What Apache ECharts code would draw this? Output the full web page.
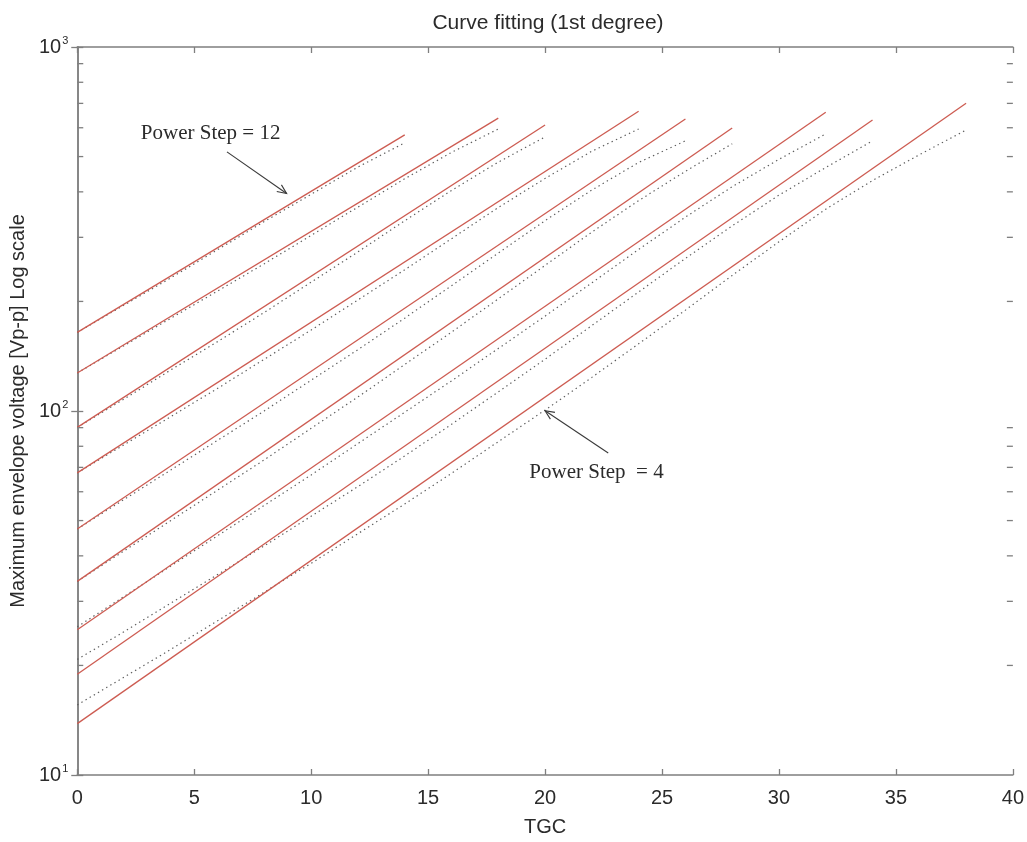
<!DOCTYPE html>
<html>
<head>
<meta charset="utf-8">
<title>Curve fitting (1st degree)</title>
<script src="https://cdn.jsdelivr.net/npm/echarts@6/dist/echarts.min.js"></script>
<style>
  html, body { margin: 0; padding: 0; background: #ffffff; }
  #chart { width: 1027px; height: 842px; }
</style>
</head>
<body>
<div id="chart"></div>
<script>
// TGC settings at which the envelope voltage was measured
const tgc = [0, 2, 4, 6, 8, 10, 12, 14, 16, 18, 20, 22, 24, 26, 28, 30, 32, 34, 36, 38];

// Power steps, top curve first
const powerSteps = [12, 11, 10, 9, 8, 7, 6, 5, 4];

// Last TGC value of each power step
const tgcEnd = [14, 18, 20, 24, 26, 28, 32, 34, 38];

// First-degree fit (straight line on the log scale): value at TGC 0 and at the last TGC
const fitStart = [164.4, 127.2, 90.16, 67.61, 47.39, 34.03, 25.06, 18.92, 13.84];
const fitEnd = [573.4, 637.8, 610.5, 666.3, 633.9, 599.1, 662.2, 630.0, 700.3];

// Measured maximum envelope voltage [Vp-p], one array per power step
const measured12 = [164.4, 195.4, 232.1, 277.4, 331.6, 393.9, 468.0, 545.5];
const measured11 = [127.2, 151.2, 179.8, 213.6, 253.9, 303.8, 363.3, 434.6, 513.4, 595.3];
const measured10 = [90.16, 107.8, 129.7, 155.1, 186.6, 225.9, 273.6, 333.2, 403.6, 482.6, 566.2];
const measured9 = [67.61, 80.80, 96.54, 115.4, 138.8, 166.9, 201.9, 244.3, 297.4, 362.2, 435.5, 517.2, 595.4];
const measured8 = [47.39, 57.14, 68.88, 83.05, 100.1, 121.5, 147.4, 179.9, 221.0, 271.5, 333.4, 404.5, 481.7, 552.3];
const measured7 = [34.03, 41.26, 50.01, 60.60, 73.47, 89.63, 109.3, 134.2, 164.7, 203.3, 251.2, 310.1, 378.4, 455.6, 542.1];
const measured6 = [25.53, 30.94, 37.50, 45.44, 55.06, 66.73, 81.38, 99.22, 121.0, 148.5, 182.2, 225.0, 277.8, 340.9, 413.2, 491.4, 577.0];
const measured5 = [20.78, 24.75, 29.67, 35.55, 42.62, 51.40, 62.00, 75.26, 91.90, 112.9, 138.8, 171.7, 212.3, 262.6, 322.7, 391.7, 466.7, 552.3];
const measured4 = [15.58, 18.57, 22.13, 26.54, 31.81, 38.15, 46.03, 55.54, 67.42, 82.36, 100.6, 123.7, 153.0, 189.3, 235.8, 291.6, 358.4, 429.8, 505.8, 591.6];

const measured = [measured12, measured11, measured10, measured9, measured8, measured7, measured6, measured5, measured4];

// Minor log ticks drawn on the left and right frame edges
const yMinorTicks = [20, 30, 40, 50, 60, 70, 80, 90, 200, 300, 400, 500, 600, 700, 800, 900];

// Annotations: text anchor and arrow (tail, head) in data coordinates
const notes = [
  { text: 'Power Step = 12', at: [5.7, 577], from: [6.4, 515], to: [8.95, 396] },
  { text: 'Power Step  = 4', at: [22.2, 67.6], from: [22.7, 76.7], to: [20.0, 100.2] }
];

const SANS = '"Liberation Sans", Arial, sans-serif';
const SERIF = '"Liberation Serif", "Times New Roman", serif';
const AXIS = '#7f7f7f';
const TEXT = '#2b2b2b';
const FIT_RED = '#cd5c52';
const DOT = '#5e5e5e';

const chart = echarts.init(document.getElementById('chart'), null, { renderer: 'canvas' });

const series = [];

powerSteps.forEach((ps, k) => {
  series.push({
    name: 'Measured PS ' + ps,
    type: 'line',
    data: measured[k].map((v, i) => [tgc[i], v]),
    showSymbol: false,
    silent: true,
    lineStyle: { color: DOT, width: 1.2, type: [1.4, 3.4] },
    z: 2
  });
  series.push({
    name: 'Fit PS ' + ps,
    type: 'line',
    data: [[0, fitStart[k]], [tgcEnd[k], fitEnd[k]]],
    showSymbol: false,
    silent: true,
    lineStyle: { color: FIT_RED, width: 1.3 },
    z: 3
  });
});

series.push({
  name: 'minor ticks',
  type: 'custom',
  silent: true,
  clip: false,
  data: yMinorTicks.map(v => [0, v]),
  renderItem: function (params, api) {
    const v = api.value(1);
    const pl = api.coord([0, v]);
    const pr = api.coord([40, v]);
    const st = { stroke: AXIS, lineWidth: 1.3 };
    return {
      type: 'group',
      children: [
        { type: 'line', shape: { x1: pl[0], y1: pl[1], x2: pl[0] + 6, y2: pl[1] }, style: st },
        { type: 'line', shape: { x1: pr[0] - 6, y1: pr[1], x2: pr[0], y2: pr[1] }, style: st }
      ]
    };
  },
  z: 5
});

// Text labels with open-headed arrows
series.push({
  name: 'notes',
  type: 'custom',
  silent: true,
  clip: false,
  data: notes.map(n => n.at),
  renderItem: function (params, api) {
    const n = notes[params.dataIndex];
    const at = api.coord(n.at);
    const a = api.coord(n.from);
    const b = api.coord(n.to);
    const ang = Math.atan2(b[1] - a[1], b[0] - a[0]);
    const hl = 10, spread = 0.42;
    const h1 = [b[0] - hl * Math.cos(ang - spread), b[1] - hl * Math.sin(ang - spread)];
    const h2 = [b[0] - hl * Math.cos(ang + spread), b[1] - hl * Math.sin(ang + spread)];
    const st = { stroke: '#3a3a3a', lineWidth: 1.1, fill: null };
    return {
      type: 'group',
      children: [
        { type: 'text', x: at[0], y: at[1],
          style: { text: n.text, fill: TEXT, font: '21px ' + SERIF, textAlign: 'center', textVerticalAlign: 'middle' } },
        { type: 'line', shape: { x1: a[0], y1: a[1], x2: b[0], y2: b[1] }, style: st },
        { type: 'polyline', shape: { points: [h1, b, h2] }, style: st }
      ]
    };
  },
  z: 6
});

const option = {
  animation: false,
  backgroundColor: '#ffffff',
  title: {
    text: 'Curve fitting (1st degree)',
    left: 543,
    top: 8,
    textAlign: 'center',
    textStyle: { fontFamily: SANS, fontSize: 21, fontWeight: 'normal', color: TEXT }
  },
  grid: { left: 77, right: 14, top: 47, bottom: 58, containLabel: false },
  xAxis: [
    {
      type: 'value',
      min: 0,
      max: 40,
      interval: 5,
      name: 'TGC',
      nameLocation: 'middle',
      nameGap: 42,
      nameTextStyle: { fontFamily: SANS, fontSize: 20, color: TEXT },
      axisLine: { show: true, lineStyle: { color: AXIS, width: 1.5 } },
      axisTick: { inside: true, length: 6, lineStyle: { color: AXIS, width: 1.3 } },
      axisLabel: { margin: 13, fontFamily: SANS, fontSize: 20, color: TEXT },
      splitLine: { show: false }
    },
    {
      type: 'value',
      position: 'top',
      min: 0,
      max: 40,
      interval: 5,
      axisLine: { show: true, lineStyle: { color: AXIS, width: 1.5 } },
      axisTick: { inside: true, length: 6, lineStyle: { color: AXIS, width: 1.3 } },
      axisLabel: { show: false },
      splitLine: { show: false }
    }
  ],
  yAxis: [
    {
      type: 'log',
      logBase: 10,
      min: 10,
      max: 1000,
      name: 'Maximum envelope voltage [Vp-p] Log scale',
      nameLocation: 'middle',
      nameGap: 46,
      nameRotate: 90,
      nameTextStyle: { fontFamily: SANS, fontSize: 20, color: TEXT },
      axisLine: { show: true, lineStyle: { color: AXIS, width: 1.5 } },
      axisTick: { inside: true, length: 6, lineStyle: { color: AXIS, width: 1.3 } },
      axisLabel: {
        margin: 9,
        formatter: v => '{b|10}{s|' + Math.round(Math.log10(v)) + '}',
        rich: {
          b: { fontFamily: SANS, fontSize: 20, color: TEXT, lineHeight: 24 },
          s: { fontFamily: SANS, fontSize: 11, color: TEXT, verticalAlign: 'top', lineHeight: 24, padding: [0, 0, 10, 1] }
        }
      },
      splitLine: { show: false }
    },
    {
      type: 'log',
      logBase: 10,
      min: 10,
      max: 1000,
      position: 'right',
      axisLine: { show: true, lineStyle: { color: AXIS, width: 1.5 } },
      axisTick: { inside: true, length: 6, lineStyle: { color: AXIS, width: 1.3 } },
      axisLabel: { show: false },
      splitLine: { show: false }
    }
  ],
  series: series
};

chart.setOption(option);
</script>
</body>
</html>
